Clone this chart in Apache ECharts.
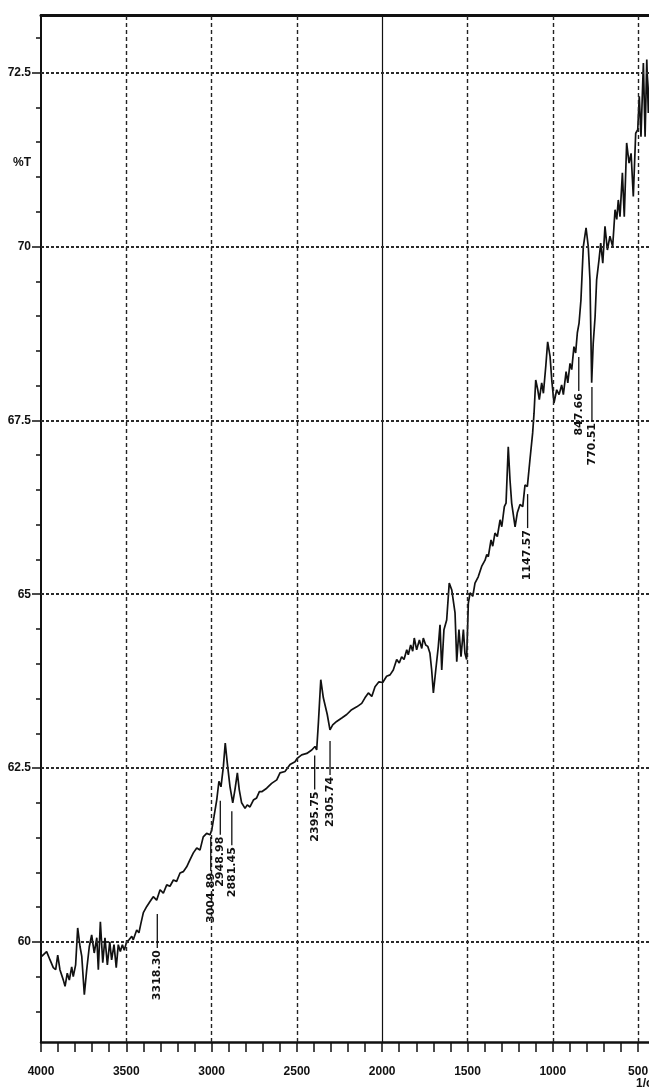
<!DOCTYPE html>
<html>
<head>
<meta charset="utf-8">
<script src="https://cdn.jsdelivr.net/npm/echarts@6/dist/echarts.min.js"></script>
<style>
  html, body { margin: 0; padding: 0; background: #fff; }
  #chart { width: 649px; height: 1090px; }
</style>
</head>
<body>
<div id="chart"></div>
<script>
// IR transmittance spectrum, wavenumber (1/cm) against %T
const wavenumbers = [
  3996, 3967, 3947, 3928, 3914, 3902, 3889, 3869, 3859, 3846, 3834, 3820, 3811, 3797, 3785, 3771, 3761, 3746,
  3732, 3717, 3703, 3688, 3673, 3664, 3652, 3638, 3625, 3611, 3597, 3586, 3572, 3559, 3547, 3535, 3523, 3512,
  3498, 3484, 3468, 3459, 3439, 3426, 3414, 3400, 3380, 3361, 3342, 3322, 3302, 3283, 3263, 3244, 3224, 3205,
  3185, 3166, 3146, 3127, 3117, 3107, 3087, 3068, 3049, 3029, 3009, 2999, 2986, 2970, 2957, 2945, 2931, 2920,
  2908, 2892, 2876, 2863, 2849, 2838, 2824, 2804, 2791, 2775, 2755, 2736, 2720, 2706, 2677, 2648, 2618, 2599,
  2570, 2540, 2511, 2498, 2472, 2442, 2413, 2394, 2384, 2374, 2360, 2345, 2335, 2322, 2306, 2290, 2267, 2237,
  2208, 2179, 2149, 2120, 2101, 2081, 2061, 2042, 2019, 1997, 1974, 1954, 1935, 1915, 1900, 1886, 1872, 1856,
  1847, 1833, 1821, 1812, 1798, 1782, 1768, 1759, 1745, 1733, 1720, 1710, 1700, 1686, 1671, 1661, 1651, 1638,
  1622, 1607, 1592, 1573, 1563, 1550, 1538, 1524, 1515, 1505, 1495, 1485, 1469, 1456, 1437, 1417, 1397, 1387,
  1378, 1362, 1352, 1339, 1325, 1309, 1299, 1284, 1274, 1261, 1251, 1241, 1221, 1208, 1192, 1176, 1163, 1149,
  1134, 1118, 1110, 1100, 1088, 1079, 1065, 1055, 1041, 1030, 1016, 1006, 993, 977, 963, 948, 938, 922,
  912, 899, 889, 876, 866, 856, 846, 835, 821, 805, 792, 782, 772, 763, 752, 743, 729, 719,
  707, 694, 680, 665, 649, 635, 625, 616, 606, 592, 581, 567, 553, 541, 528, 514, 502, 493,
  483, 469, 459, 449, 440, 430
];
const transmittance = [
  59.79, 59.86, 59.74, 59.63, 59.60, 59.81, 59.60, 59.45, 59.36, 59.55, 59.45, 59.64, 59.50, 59.67, 60.20, 59.93, 59.79, 59.24,
  59.60, 59.93, 60.10, 59.84, 60.06, 59.60, 60.29, 59.70, 60.06, 59.67, 60.00, 59.74, 59.96, 59.63, 59.96, 59.86, 59.96, 59.88,
  60.00, 60.03, 60.08, 60.03, 60.17, 60.13, 60.27, 60.42, 60.51, 60.58, 60.65, 60.60, 60.75, 60.70, 60.82, 60.80, 60.89, 60.87,
  60.99, 61.01, 61.08, 61.18, 61.23, 61.28, 61.35, 61.32, 61.51, 61.56, 61.54, 61.61, 61.80, 62.04, 62.31, 62.23, 62.52, 62.86,
  62.57, 62.23, 62.00, 62.19, 62.43, 62.19, 62.00, 61.92, 61.97, 61.94, 62.04, 62.07, 62.16, 62.16, 62.21, 62.28, 62.33, 62.43,
  62.45, 62.55, 62.59, 62.64, 62.69, 62.71, 62.76, 62.81, 62.76, 63.15, 63.77, 63.51, 63.53, 63.27, 63.05, 63.12, 63.17, 63.22,
  63.27, 63.34, 63.38, 63.43, 63.51, 63.58, 63.53, 63.67, 63.74, 63.73, 63.82, 63.84, 63.91, 64.06, 64.01, 64.10, 64.06, 64.20,
  64.13, 64.27, 64.18, 64.37, 64.20, 64.34, 64.22, 64.37, 64.27, 64.25, 64.15, 63.91, 63.58, 63.91, 64.25, 64.56, 63.91, 64.49,
  64.63, 65.16, 65.06, 64.73, 64.03, 64.49, 64.10, 64.49, 64.15, 64.06, 64.87, 65.02, 64.97, 65.16, 65.25, 65.40, 65.49, 65.57,
  65.54, 65.78, 65.69, 65.88, 65.83, 66.07, 65.97, 66.26, 66.31, 67.12, 66.65, 66.31, 65.97, 66.17, 66.29, 66.26, 66.57, 66.55,
  66.93, 67.32, 67.60, 68.08, 67.94, 67.80, 68.04, 67.89, 68.28, 68.63, 68.42, 68.08, 67.75, 67.94, 67.87, 68.01, 67.87, 68.20,
  68.04, 68.32, 68.23, 68.56, 68.47, 68.76, 68.90, 69.23, 70.00, 70.27, 70.00, 69.52, 68.04, 68.61, 68.99, 69.52, 69.81, 70.05,
  69.76, 70.29, 69.95, 70.15, 70.00, 70.53, 70.39, 70.67, 70.43, 71.06, 70.43, 71.49, 71.20, 71.34, 70.72, 71.63, 71.68, 72.16,
  71.58, 72.64, 71.58, 72.69, 71.92, 72.55
];

// Picked peaks: wavenumber and the %T level where each marker line starts
const peakWavenumbers = [3318.30, 3004.89, 2948.98, 2881.45, 2395.75, 2305.74, 1147.57, 847.66, 770.51];
const peakMarkerTop   = [60.40, 61.51, 62.03, 61.88, 62.68, 62.89, 66.44, 68.41, 67.98];

// Axis labels
const xTickLabels = [4000, 3500, 3000, 2500, 2000, 1500, 1000, 500];
const yTickLabels = [60, 62.5, 65, 67.5, 70, 72.5];

const X_MIN = 436, X_MAX = 4000;
const Y_MIN = 58.56, Y_MAX = 73.33;

const xMinorTicks = [];
for (let v = 500; v <= 4000; v += 100) xMinorTicks.push(v);
const yMinorTicks = [];
for (let v = 59; v <= 73; v += 0.5) yMinorTicks.push(v);

const INK = '#111';
const labelFont = { color: INK, fontFamily: '"Liberation Sans Narrow", "Liberation Sans", Arial, sans-serif', fontWeight: 'bold', fontSize: 12 };

const gridLines = [];
xTickLabels.filter(v => v !== 4000).forEach(v => {
  gridLines.push({ xAxis: v, lineStyle: v === 2000
    ? { type: 'solid', width: 1.2, color: INK }
    : { type: [4, 3], width: 1.4, color: '#222' } });
});
yTickLabels.forEach(v => {
  gridLines.push({ yAxis: v, lineStyle: { type: [3, 2], width: 2, color: '#2a2a2a' } });
});

const chart = echarts.init(document.getElementById('chart'), null, { renderer: 'canvas' });
chart.setOption({
  animation: false,
  backgroundColor: '#fff',
  grid: { left: 41, top: 15, right: 0, bottom: 48, containLabel: false, outerBoundsMode: 'none' },
  xAxis: [
    {
      type: 'value', inverse: true, min: X_MIN, max: X_MAX, position: 'bottom',
      axisLine: { show: true, lineStyle: { color: INK, width: 2.5 } },
      axisTick: { show: true, length: 10, customValues: xMinorTicks, lineStyle: { color: INK, width: 1.5 } },
      axisLabel: Object.assign({ customValues: xTickLabels, margin: 24, formatter: v => String(v) }, labelFont),
      splitLine: { show: false }
    },
    {
      type: 'value', inverse: true, min: X_MIN, max: X_MAX, position: 'top',
      axisLine: { show: true, lineStyle: { color: INK, width: 3 } },
      axisTick: { show: false }, axisLabel: { show: false }, splitLine: { show: false }
    }
  ],
  yAxis: [
    {
      type: 'value', min: Y_MIN, max: Y_MAX, position: 'left',
      axisLine: { show: true, lineStyle: { color: INK, width: 2 } },
      axisTick: { show: true, length: 5, customValues: yMinorTicks, lineStyle: { color: INK, width: 1.5 } },
      axisLabel: Object.assign({ customValues: yTickLabels, margin: 10, formatter: v => String(v) }, labelFont),
      splitLine: { show: false }
    },
    {
      type: 'value', min: Y_MIN, max: Y_MAX, position: 'left',
      axisLine: { show: false },
      axisTick: { show: true, length: 9, customValues: yTickLabels, lineStyle: { color: INK, width: 1.5 } },
      axisLabel: { show: false }, splitLine: { show: false }
    }
  ],
  graphic: [
    { type: 'text', left: 13, top: 157, style: { text: '%T', fill: INK, font: 'bold 12px "Liberation Sans Narrow", "Liberation Sans", sans-serif' } },
    { type: 'text', left: 636, top: 1078, style: { text: '1/cm', fill: INK, font: 'bold 12px "Liberation Sans Narrow", "Liberation Sans", sans-serif' } }
  ],
  series: [
    {
      type: 'line',
      data: wavenumbers.map((w, i) => [w, transmittance[i]]),
      showSymbol: false,
      symbol: 'none',
      lineStyle: { color: INK, width: 1.7 },
      z: 3,
      markLine: {
        silent: true, symbol: 'none', label: { show: false }, animation: false,
        data: gridLines
      }
    },
    {
      type: 'custom',
      data: peakWavenumbers.map((w, i) => [w, peakMarkerTop[i]]),
      z: 5,
      clip: false,
      renderItem: (params, api) => {
        const p = api.coord([api.value(0), api.value(1)]);
        const text = peakWavenumbers[params.dataIndex].toFixed(2);
        return {
          type: 'group',
          children: [
            { type: 'line', shape: { x1: p[0], y1: p[1], x2: p[0], y2: p[1] + 34 },
              style: { stroke: INK, lineWidth: 1.3 } },
            { type: 'text', x: p[0], y: p[1] + 36, rotation: Math.PI / 2,
              style: { text: text, align: 'right', verticalAlign: 'middle', fill: INK,
                       font: 'bold 11px "DejaVu Sans", sans-serif' } }
          ]
        };
      }
    }
  ]
});
</script>
</body>
</html>
